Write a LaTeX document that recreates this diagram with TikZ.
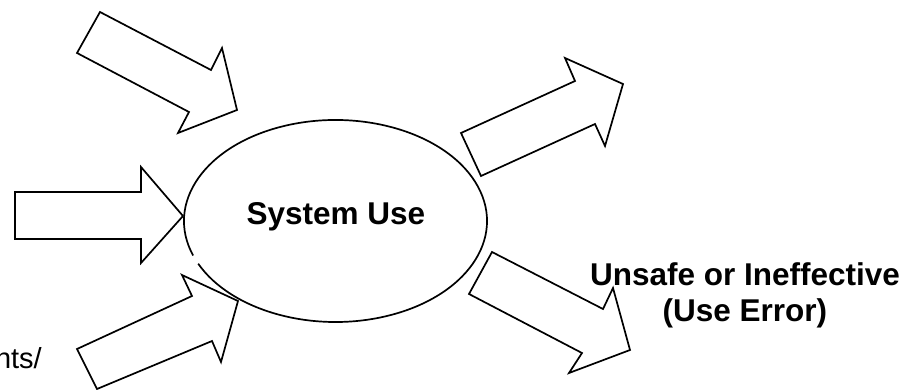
\documentclass[tikz,border=0pt]{standalone}
\usepackage{fontspec}
\setmainfont{Liberation Sans}
\begin{document}
\begin{tikzpicture}[x=1pt,y=-1pt,
  outline/.style={draw=black,line width=1.7pt,line join=miter},
  bigbold/.style={font=\fontsize{31.5}{35}\selectfont\bfseries,inner sep=0pt},
  plain/.style={font=\fontsize{29}{33}\selectfont,inner sep=0pt}]
\useasboundingbox (0,0) rectangle (917,390);
\clip (0,0) rectangle (917,390);

% central ellipse, drawn as an arc with a short break on its lower left
\coordinate (ellstart) at (193.13,255.54);
\draw[outline] (ellstart) arc[start angle=160, end angle=515, x radius=151.5, y radius=101];
\node[bigbold,anchor=base] (sys) at (336,224) {System Use};

% incoming block arrows
\draw[outline] (100,12) -- (211,70) -- (222,48) -- (237,110) -- (178,133) -- (189,112) -- (77,53) -- cycle;
\draw[outline] (15,192) -- (141,192) -- (141,167) -- (183,216) -- (141,263) -- (141,239) -- (15,239) -- cycle;
\draw[outline] (77,349) -- (192,296) -- (182,275) -- (238,301) -- (221,362) -- (212,341) -- (97,389) -- cycle;

% outgoing block arrows
\draw[outline] (461,133) -- (575,81) -- (565,58) -- (623,84) -- (605,146) -- (595,124) -- (481,176) -- cycle;
\draw[outline] (492,252) -- (603,309) -- (613,288) -- (630,350) -- (569,373) -- (582,353) -- (469,294) -- cycle;

% labels
\node[bigbold,anchor=base] (err1) at (745,285) {Unsafe or Ineffective};
\node[bigbold,anchor=base] (err2) at (745,321) {(Use Error)};
\node[plain,anchor=base east] (inl) at (42,368) {nts/};
\end{tikzpicture}
\end{document}
